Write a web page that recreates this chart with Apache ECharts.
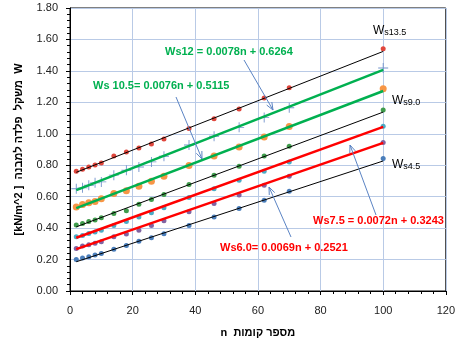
<!DOCTYPE html>
<html>
<head>
<meta charset="utf-8">
<script src="https://cdn.jsdelivr.net/npm/echarts@6/dist/echarts.min.js"></script>
<style>
html,body{margin:0;padding:0;background:#fff}
#main{width:458px;height:351px}
</style>
</head>
<body>
<div id="main"></div>
<script>
// number of floors (x values)
var nFloors = [2, 4, 6, 8, 10, 14, 18, 22, 26, 30, 38, 46, 54, 62, 70, 100];

// steel weight W per series
var ws45  = [0.201, 0.210, 0.218, 0.229, 0.239, 0.265, 0.290, 0.317, 0.338, 0.364, 0.417, 0.470, 0.525, 0.578, 0.635, 0.843];
var ws60  = [0.271, 0.286, 0.294, 0.303, 0.313, 0.345, 0.362, 0.387, 0.417, 0.447, 0.504, 0.557, 0.611, 0.673, 0.730, 0.944];
var ws75  = [0.345, 0.353, 0.366, 0.375, 0.387, 0.417, 0.442, 0.470, 0.497, 0.529, 0.595, 0.650, 0.705, 0.762, 0.821, 1.048];
var ws90  = [0.419, 0.430, 0.442, 0.451, 0.466, 0.493, 0.510, 0.552, 0.582, 0.614, 0.677, 0.737, 0.794, 0.859, 0.921, 1.151];
var ws105 = [0.535, 0.550, 0.561, 0.569, 0.586, 0.620, 0.637, 0.667, 0.698, 0.730, 0.798, 0.859, 0.916, 0.980, 1.046, 1.287];
var ws12  = [0.650, 0.656, 0.673, 0.688, 0.694, 0.737, 0.768, 0.789, 0.821, 0.857, 0.929, 0.984, 1.041, 1.103, 1.166, 1.418];
var ws135 = [0.762, 0.775, 0.789, 0.802, 0.814, 0.859, 0.884, 0.910, 0.935, 0.967, 1.033, 1.096, 1.158, 1.227, 1.293, 1.541];

// trendline ends (n = 2 and n = 100)
var trendN     = [2, 100];
var trendStart = [0.186, 0.266, 0.339, 0.408, 0.527, 0.642, 0.755];
var trendEnd   = [0.827, 0.942, 1.044, 1.138, 1.272, 1.406, 1.524];

var xTicks = [0, 20, 40, 60, 80, 100, 120];
var yTicks = [0, 0.2, 0.4, 0.6, 0.8, 1.0, 1.2, 1.4, 1.6, 1.8];

var seriesData  = [ws45, ws60, ws75, ws90, ws105, ws12, ws135];
var markColors  = ['#4a7ebb', '#8064a2', '#4bacc6', '#3f9c4c', '#f79646', '#7493cc', '#e0463c'];
var markSizes   = [5, 5, 5, 5, 7, 10, 5];
var trendColors = ['#000', '#ff0000', '#ff0000', '#000', '#00b050', '#00b050', '#000'];
var trendWidths = [1, 2.5, 2.5, 1, 2.5, 2.5, 1];

var plusPath = 'path://M0,9.1H20V10.9H0Z M9.1,0H10.9V20H9.1Z';

var chart = echarts.init(document.getElementById('main'));

var series = [];
seriesData.forEach(function (vals, i) {
    series.push({
        type: 'scatter',
        data: nFloors.map(function (n, k) { return [n, vals[k]]; }),
        symbol: i === 5 ? plusPath : 'circle',
        symbolSize: markSizes[i],
        itemStyle: { color: markColors[i], opacity: 1 },
        z: 2
    });
});
seriesData.forEach(function (vals, i) {
    series.push({
        type: 'line',
        data: [[trendN[0], trendStart[i]], [trendN[1], trendEnd[i]]],
        showSymbol: false,
        lineStyle: { color: trendColors[i], width: trendWidths[i] },
        silent: true,
        z: 3
    });
});

function arrow(x1, y1, x2, y2) {
    var a = Math.atan2(y2 - y1, x2 - x1), L = 8, w = 0.38;
    var c = '#5b84c4';
    return [
        { type: 'line', shape: { x1: x1, y1: y1, x2: x2, y2: y2 }, style: { stroke: c, lineWidth: 1 }, z: 10 },
        { type: 'polyline', shape: { points: [
            [x2 - L * Math.cos(a - w), y2 - L * Math.sin(a - w)], [x2, y2],
            [x2 - L * Math.cos(a + w), y2 - L * Math.sin(a + w)]] },
          style: { stroke: c, fill: null, lineWidth: 1 }, z: 10 }
    ];
}

function eqText(x, y, txt, color) {
    return { type: 'text', left: x, top: y - 7, z: 10,
        style: { text: txt, fill: color, font: 'bold 11px "Liberation Sans", Arial, sans-serif' } };
}

function wsLabel(x, y, sub) {
    return { type: 'text', left: x, top: y - 8, z: 10,
        style: { text: '{a|W}{b|s' + sub + '}', rich: {
            a: { fontSize: 12, fill: '#000', fontFamily: 'Liberation Sans' },
            b: { fontSize: 9, fill: '#000', fontFamily: 'Liberation Sans', padding: [3, 0, 0, 0] } } } };
}

var graphics = []
    .concat(arrow(244, 60, 273, 110))
    .concat(arrow(176, 97, 202, 159))
    .concat(arrow(376, 215, 350, 145))
    .concat(arrow(291, 237, 269, 187));
graphics.push(eqText(165, 53, 'Ws12 = 0.0078n + 0.6264', '#00b050'));
graphics.push(eqText(93, 87, 'Ws 10.5= 0.0076n + 0.5115', '#00b050'));
graphics.push(eqText(313, 222, 'Ws7.5 = 0.0072n + 0.3243', '#ff0000'));
graphics.push(eqText(220, 249, 'Ws6.0= 0.0069n + 0.2521', '#ff0000'));
graphics.push(wsLabel(373, 33, '13.5'));
graphics.push(wsLabel(392, 103, '9.0'));
graphics.push(wsLabel(392, 167, '4.5'));

var nameStyle = { fontWeight: 'bold', fontSize: 11, color: '#000',
    rich: { h: { fontWeight: 'bold', fontSize: 11, color: '#000' } } };

chart.setOption({
    animation: false,
    backgroundColor: '#fff',
    textStyle: { fontFamily: '"Liberation Sans", Arial, sans-serif' },
    grid: { left: 70, right: 11, top: 8, bottom: 60, show: true, borderColor: '#000', borderWidth: 1 },
    xAxis: {
        type: 'value', min: xTicks[0], max: xTicks[xTicks.length - 1], interval: 20,
        // separate tokens so "n" stays on the left of the hebrew words
        name: '{h|n  }{h|מספר קומות}', nameLocation: 'middle', nameGap: 36,
        nameTextStyle: nameStyle,
        axisLine: { lineStyle: { color: '#000' } },
        axisTick: { show: true, length: 4, lineStyle: { color: '#000' } },
        minorTick: { show: true, splitNumber: 5, length: 3, lineStyle: { color: '#000' } },
        axisLabel: { fontSize: 11, color: '#222', margin: 14 },
        splitLine: { lineStyle: { color: '#b9cae6' } }
    },
    yAxis: {
        type: 'value', min: yTicks[0], max: yTicks[yTicks.length - 1], interval: 0.2,
        name: '{h|[kN/m^2 ]  }{h|משקל  פלדה למבנה}{h|  W}', nameLocation: 'middle', nameGap: 46,
        nameTextStyle: nameStyle,
        axisLine: { lineStyle: { color: '#000' } },
        axisTick: { show: true, length: 4, lineStyle: { color: '#000' } },
        minorTick: { show: true, splitNumber: 5, length: 3, lineStyle: { color: '#000' } },
        axisLabel: { fontSize: 11, color: '#222', margin: 12,
            formatter: function (v) { return v.toFixed(2); } },
        splitLine: { lineStyle: { color: '#b9cae6' } }
    },
    series: series,
    graphic: graphics
});
</script>
</body>
</html>
